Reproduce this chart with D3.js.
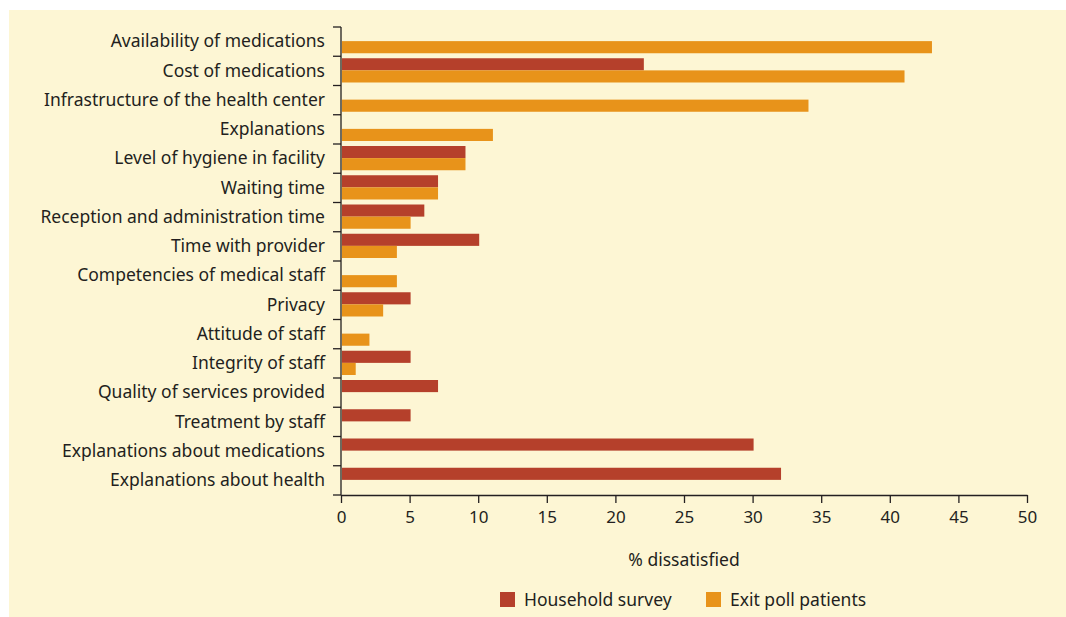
<!DOCTYPE html>
<html>
<head>
<meta charset="utf-8">
<script src="https://cdn.jsdelivr.net/npm/d3@7"></script>
<style>
  html, body { margin: 0; padding: 0; background: #ffffff; }
  svg { display: block; }
  text { font-family: "Noto Sans", "Open Sans", sans-serif; fill: #231f20; }
</style>
</head>
<body>
<svg id="chart" width="1066" height="617"></svg>
<script>
// Reasons for dissatisfaction, top to bottom
const categories = [
  "Availability of medications",
  "Cost of medications",
  "Infrastructure of the health center",
  "Explanations",
  "Level of hygiene in facility",
  "Waiting time",
  "Reception and administration time",
  "Time with provider",
  "Competencies of medical staff",
  "Privacy",
  "Attitude of staff",
  "Integrity of staff",
  "Quality of services provided",
  "Treatment by staff",
  "Explanations about medications",
  "Explanations about health"
];
// % dissatisfied; null where the item was not asked
const householdSurvey = [null, 22, null, null, 9, 7, 6, 10, null, 5, null, 5, 7, 5, 30, 32];
const exitPollPatients = [43, 41, 34, 11, 9, 7, 5, 4, 4, 3, 2, 1, null, null, null, null];
const seriesNames = ["Household survey", "Exit poll patients"];
const seriesColors = ["#b5402b", "#e8931a"];
const xTicks = [0, 5, 10, 15, 20, 25, 30, 35, 40, 45, 50];

const svg = d3.select("#chart");
svg.append("rect").attr("x", 9).attr("y", 10).attr("width", 1057).attr("height", 607)
  .attr("fill", "#fdf6d4");

const plotLeft = 341, plotRight = 1027, plotTop = 27, plotBottom = 495;

const x = d3.scaleLinear().domain([0, 50]).range([plotLeft, plotRight]);
const y = d3.scaleBand().domain(categories).range([plotTop, plotBottom]).paddingInner(0).paddingOuter(0);
const sub = d3.scaleBand().domain(seriesNames).range([2, y.bandwidth() - 3]);

const series = [householdSurvey, exitPollPatients];
series.forEach((vals, si) => {
  const rows = categories.map((c, i) => ({ c, v: vals[i] })).filter(d => d.v != null);
  svg.append("g").selectAll("rect").data(rows).join("rect")
    .attr("x", x(0) + 1)
    .attr("y", d => y(d.c) + sub(seriesNames[si]))
    .attr("width", d => x(d.v) - x(0))
    .attr("height", sub.bandwidth())
    .attr("fill", seriesColors[si]);
});

// Category axis: ticks on band boundaries, labels centred in bands
const yAxisG = svg.append("g");
yAxisG.append("line").attr("x1", plotLeft).attr("x2", plotLeft).attr("y1", plotTop).attr("y2", plotBottom)
  .attr("stroke", "#231f20").attr("stroke-width", 1.3);
const boundaries = d3.range(categories.length + 1).map(i => plotTop + i * y.bandwidth());
yAxisG.selectAll("line.tick").data(boundaries).join("line").attr("class", "tick")
  .attr("x1", plotLeft - 8).attr("x2", plotLeft).attr("y1", d => d).attr("y2", d => d)
  .attr("stroke", "#231f20").attr("stroke-width", 1.3);
yAxisG.selectAll("text").data(categories).join("text")
  .attr("x", 325).attr("y", d => y(d) + y.bandwidth() / 2 - 0.5)
  .attr("dy", "0.36em").attr("text-anchor", "end")
  .style("font-size", "17.5px").text(d => d);

// Value axis
const xAxis = d3.axisBottom(x).tickValues(xTicks).tickSize(8).tickSizeOuter(0).tickPadding(8);
const xg = svg.append("g").attr("transform", `translate(0,${plotBottom})`).call(xAxis);
xg.select(".domain").attr("stroke", "#231f20").attr("stroke-width", 1.3);
xg.selectAll(".tick line").attr("stroke", "#231f20").attr("stroke-width", 1.3);
xg.selectAll(".tick text").style("font-size", "17px").style("font-family", "Noto Sans, sans-serif").attr("fill", "#231f20");

svg.append("text").attr("x", (plotLeft + plotRight) / 2).attr("y", 566)
  .attr("text-anchor", "middle").style("font-size", "17.5px").text("% dissatisfied");

// Legend
const legendX = [500, 706];
seriesNames.forEach((name, i) => {
  svg.append("rect").attr("x", legendX[i]).attr("y", 592).attr("width", 15).attr("height", 15)
    .attr("fill", seriesColors[i]);
  svg.append("text").attr("x", legendX[i] + 24).attr("y", 600).attr("dy", "0.36em")
    .style("font-size", "17.5px").text(name);
});
</script>
</body>
</html>
